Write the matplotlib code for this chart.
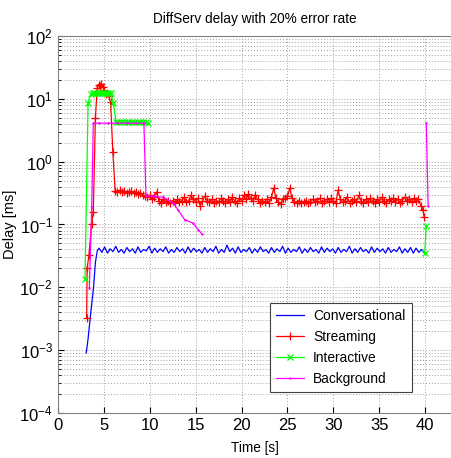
import numpy as np
import matplotlib
matplotlib.use("Agg")
import matplotlib.pyplot as plt
from matplotlib.ticker import LogLocator, NullFormatter, MultipleLocator

plt.rcParams["font.family"] = ["Liberation Sans", "DejaVu Sans"]
plt.rcParams["mathtext.fontset"] = "custom"
plt.rcParams["mathtext.rm"] = "Liberation Sans"

# Conversational (blue)
conv_t_start = [3.1, 3.3, 3.6, 3.9, 4.1, 4.3]
conv_v_start = [0.0009, 0.0015, 0.004, 0.01, 0.025, 0.038]
conv_v = [
    0.042, 0.036, 0.044, 0.035, 0.041, 0.037, 0.045, 0.036, 0.040, 0.035,
    0.043, 0.037, 0.041, 0.035, 0.044, 0.036, 0.040, 0.038, 0.045, 0.035,
    0.042, 0.036, 0.041, 0.037, 0.044, 0.035, 0.040, 0.036, 0.043, 0.037,
    0.041, 0.035, 0.044, 0.036, 0.042, 0.037, 0.040, 0.035, 0.043, 0.036,
    0.041, 0.037, 0.045, 0.035, 0.040, 0.036, 0.047, 0.037, 0.042, 0.035,
    0.044, 0.036, 0.040, 0.037, 0.043, 0.035, 0.041, 0.036, 0.044, 0.037,
    0.040, 0.035, 0.043, 0.036, 0.041, 0.037, 0.045, 0.035, 0.042, 0.036,
    0.040, 0.037, 0.044, 0.035, 0.041, 0.036, 0.043, 0.037, 0.040, 0.035,
    0.044, 0.036, 0.042, 0.037, 0.041, 0.035, 0.043, 0.036, 0.040, 0.037,
    0.045, 0.035, 0.041, 0.036, 0.043, 0.037, 0.040, 0.035, 0.044, 0.036,
    0.042, 0.037, 0.041, 0.035, 0.043, 0.036, 0.040, 0.037, 0.044, 0.035,
    0.041, 0.036, 0.043, 0.035, 0.042, 0.036, 0.040, 0.035,
]
conv_t_end = 39.9

# Streaming (red)
stream_t_start = [3.15, 3.2, 3.4, 3.68, 3.87, 4.1, 4.3, 4.45, 4.6, 4.75, 4.9,
                  5.05, 5.3, 5.55, 5.75, 6.0]
stream_v_start = [0.0032, 0.02, 0.033, 0.1, 0.16, 5.0, 15.0, 16.5, 16.0, 17.0,
                  15.5, 14.0, 12.0, 11.0, 9.0, 1.4]
stream_v = [
    0.34, 0.33, 0.35, 0.33, 0.34, 0.32, 0.33, 0.34, 0.32, 0.33, 0.31, 0.32,
    0.30, 0.28, 0.27, 0.29,
    0.25, 0.27, 0.33, 0.24, 0.22, 0.25, 0.23, 0.24, 0.22, 0.24, 0.22, 0.25,
    0.23, 0.24, 0.27, 0.23, 0.24, 0.29, 0.25, 0.23, 0.26, 0.20, 0.24, 0.28,
    0.24, 0.23, 0.25, 0.22, 0.24, 0.23, 0.26, 0.24, 0.22, 0.25, 0.23, 0.27,
    0.24, 0.22, 0.26, 0.24, 0.29, 0.25, 0.31, 0.26, 0.24, 0.30, 0.25, 0.22,
    0.24, 0.23, 0.25, 0.22, 0.27, 0.38, 0.26, 0.23, 0.21, 0.25, 0.26, 0.28,
    0.38, 0.26, 0.23, 0.22, 0.24, 0.22, 0.23, 0.24, 0.22, 0.23, 0.25, 0.23,
    0.24, 0.26, 0.22, 0.24, 0.25, 0.23, 0.26, 0.24, 0.22, 0.35, 0.25, 0.23,
    0.24, 0.27, 0.22, 0.24, 0.25, 0.23, 0.29, 0.24, 0.22, 0.25, 0.23, 0.26,
    0.24, 0.22, 0.25, 0.23, 0.27, 0.24, 0.22, 0.25, 0.24, 0.26, 0.23, 0.25,
    0.22, 0.24, 0.27, 0.24, 0.25, 0.23, 0.26, 0.24, 0.25, 0.20,
]
stream_t_end = [39.75, 39.85]
stream_v_end = [0.17, 0.134]

# Interactive (green)
inter_t = [2.97, 3.3, 3.6, 3.8, 4.0, 4.2, 4.4, 4.6, 4.8, 5.0, 5.2, 5.4, 5.6,
           5.8, 6.05, 6.35, 6.6, 6.9, 7.2, 7.5, 7.8, 8.1, 8.4, 8.7, 9.0, 9.3,
           9.6, 9.85, np.nan, 39.93, 40.1]
inter_v = [0.0135, 8.5, 12.0, 12.5, 12.3, 12.5, 12.2, 12.6, 12.4, 12.3, 12.5,
           12.2, 12.4, 12.3, 8.5, 4.3, 4.3, 4.25, 4.3, 4.25, 4.3, 4.3, 4.25,
           4.3, 4.3, 4.25, 4.3, 4.2, np.nan, 0.035, 0.093]

# Background (magenta)
back_t = [3.44, 3.7, 3.87, 4.5, 5.5, 6.5, 7.5, 8.5, 9.38, 9.6, 10.5, 11.5,
          12.6, 13.1, 13.8, 14.7, 15.3, 15.65, np.nan, 40.1, 40.3]
back_v = [0.0097, 0.19, 4.1, 4.1, 4.1, 4.1, 4.1, 4.1, 4.1, 0.285, 0.28, 0.27,
          0.215, 0.17, 0.12, 0.105, 0.083, 0.071, np.nan, 4.1, 0.2]

conv_t_mid = np.linspace(4.5, conv_t_end, len(conv_v))
conv_t = conv_t_start + list(conv_t_mid)
conv_all = conv_v_start + conv_v
stream_t = stream_t_start + list(np.arange(6.25, 39.51, 0.25)) + stream_t_end
stream_all = stream_v_start + stream_v + stream_v_end

fig = plt.figure(figsize=(4.52, 4.58), dpi=100)
ax = fig.add_axes([0.1277, 0.0983, 0.8723, 0.8231])

ax.plot(conv_t, conv_all, color="#0000ff", lw=0.9, label="Conversational")
ax.plot(stream_t, stream_all, color="#ff0000", lw=0.9, marker="+", ms=6,
        mew=0.9, label="Streaming")
ax.plot(inter_t, inter_v, color="#00ff00", lw=0.9, marker="x", ms=4,
        mew=0.9, label="Interactive")
ax.plot(back_t, back_v, color="#ff00ff", lw=0.9, marker=".", ms=1.5,
        label="Background")

ax.set_yscale("log")
ax.set_ylim(1e-4, 1e2)
ax.set_xlim(0, 42.9)
ax.xaxis.set_major_locator(MultipleLocator(5))
ax.yaxis.set_major_locator(LogLocator(base=10, numticks=10))
ax.yaxis.set_minor_locator(LogLocator(base=10, subs=np.arange(2, 10), numticks=20))
ax.yaxis.set_minor_formatter(NullFormatter())

ax.grid(which="major", color="#a0a0a0", ls=(0, (1, 2)), lw=0.7)
ax.grid(which="minor", axis="y", color="#a0a0a0", ls=(0, (1, 2)), lw=0.7)
ax.tick_params(which="both", direction="in", labelsize=12, length=4)
ax.tick_params(which="minor", length=2)
for s in ax.spines.values():
    s.set_color("#808080")

ax.set_title("DiffServ delay with 20% error rate", fontsize=9.8, pad=9)
ax.set_xlabel("Time [s]", fontsize=9.8, labelpad=6)
ax.set_ylabel("Delay [ms]", fontsize=10.5, labelpad=2)

leg = ax.legend(loc="lower left", bbox_to_anchor=(0.538, 0.056), fontsize=9.9,
                fancybox=False, edgecolor="#404040", framealpha=1,
                handlelength=2.0, borderpad=0.45, labelspacing=0.5,
                handletextpad=0.7, borderaxespad=0)
leg.get_frame().set_linewidth(0.8)

fig.savefig("out.png", dpi=100)
